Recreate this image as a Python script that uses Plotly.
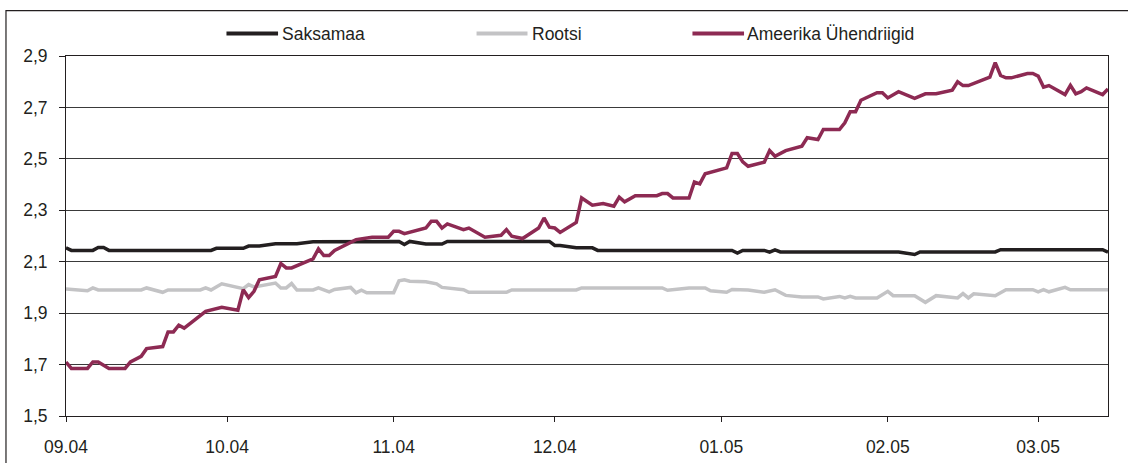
import plotly.graph_objects as go

# ---------------- data ----------------
us_dates = [
    "2004-09-01", "2004-09-02", "2004-09-05", "2004-09-06", "2004-09-07", "2004-09-09",
    "2004-09-12", "2004-09-13", "2004-09-15", "2004-09-16", "2004-09-19", "2004-09-20",
    "2004-09-21", "2004-09-22", "2004-09-23", "2004-09-27", "2004-09-30", "2004-10-03",
    "2004-10-04", "2004-10-05", "2004-10-06", "2004-10-07", "2004-10-10", "2004-10-11",
    "2004-10-12", "2004-10-13", "2004-10-17", "2004-10-18", "2004-10-19", "2004-10-20",
    "2004-10-21", "2004-10-25", "2004-10-28", "2004-10-31", "2004-11-01", "2004-11-02",
    "2004-11-03", "2004-11-07", "2004-11-08", "2004-11-09", "2004-11-10", "2004-11-11",
    "2004-11-14", "2004-11-15", "2004-11-18", "2004-11-21", "2004-11-22", "2004-11-23",
    "2004-11-25", "2004-11-28", "2004-11-29", "2004-11-30", "2004-12-01", "2004-12-02",
    "2004-12-05", "2004-12-06", "2004-12-08", "2004-12-10", "2004-12-12", "2004-12-13",
    "2004-12-14", "2004-12-16", "2004-12-20", "2004-12-21", "2004-12-22", "2004-12-23",
    "2004-12-26", "2004-12-27", "2004-12-28", "2004-12-29", "2005-01-02", "2005-01-03",
    "2005-01-04", "2005-01-05", "2005-01-06", "2005-01-09", "2005-01-10", "2005-01-11",
    "2005-01-13", "2005-01-16", "2005-01-17", "2005-01-19", "2005-01-20", "2005-01-23",
    "2005-01-24", "2005-01-25", "2005-01-26", "2005-01-27", "2005-01-30", "2005-01-31",
    "2005-02-01", "2005-02-03", "2005-02-06", "2005-02-08", "2005-02-10", "2005-02-13",
    "2005-02-14", "2005-02-15", "2005-02-16", "2005-02-20", "2005-02-21", "2005-02-22",
    "2005-02-23", "2005-02-24", "2005-02-27", "2005-02-28", "2005-03-01", "2005-03-02",
    "2005-03-03", "2005-03-06", "2005-03-07", "2005-03-08", "2005-03-09", "2005-03-10",
    "2005-03-13", "2005-03-14",
]
us_values = [
    1.710, 1.685, 1.685, 1.710, 1.710, 1.685,
    1.685, 1.710, 1.732, 1.762, 1.770, 1.827,
    1.827, 1.853, 1.842, 1.907, 1.923, 1.911,
    1.991, 1.960, 1.985, 2.030, 2.043, 2.093,
    2.076, 2.076, 2.111, 2.150, 2.124, 2.124,
    2.144, 2.186, 2.195, 2.195, 2.218, 2.218,
    2.209, 2.231, 2.257, 2.257, 2.231, 2.247,
    2.225, 2.231, 2.195, 2.203, 2.225, 2.199,
    2.190, 2.231, 2.270, 2.234, 2.231, 2.214,
    2.253, 2.348, 2.320, 2.326, 2.316, 2.351,
    2.333, 2.357, 2.357, 2.365, 2.365, 2.348,
    2.348, 2.410, 2.403, 2.442, 2.465, 2.521,
    2.521, 2.488, 2.471, 2.487, 2.532, 2.510,
    2.532, 2.549, 2.582, 2.575, 2.614, 2.614,
    2.640, 2.683, 2.683, 2.728, 2.757, 2.757,
    2.737, 2.761, 2.735, 2.753, 2.753, 2.767,
    2.800, 2.785, 2.785, 2.818, 2.874, 2.824,
    2.815, 2.815, 2.832, 2.832, 2.822, 2.779,
    2.785, 2.750, 2.786, 2.753, 2.761, 2.776,
    2.750, 2.772,
]

de_dates = [
    "2004-09-01", "2004-09-02", "2004-09-06", "2004-09-07", "2004-09-08", "2004-09-09",
    "2004-09-28", "2004-09-29", "2004-10-04", "2004-10-05", "2004-10-07", "2004-10-10",
    "2004-10-14", "2004-10-17", "2004-11-02", "2004-11-03", "2004-11-04", "2004-11-07",
    "2004-11-10", "2004-11-11", "2004-11-30", "2004-12-01", "2004-12-02", "2004-12-05",
    "2004-12-08", "2004-12-09", "2005-01-03", "2005-01-04", "2005-01-05", "2005-01-09",
    "2005-01-10", "2005-01-11", "2005-01-12", "2005-02-03", "2005-02-06", "2005-02-07",
    "2005-02-21", "2005-02-22", "2005-03-13", "2005-03-14",
]
de_values = [
    2.154, 2.144, 2.144, 2.155, 2.155, 2.144,
    2.144, 2.152, 2.152, 2.161, 2.161, 2.170,
    2.170, 2.178, 2.179, 2.167, 2.179, 2.169,
    2.169, 2.179, 2.179, 2.163, 2.163, 2.154,
    2.154, 2.144, 2.144, 2.134, 2.144, 2.144,
    2.137, 2.146, 2.138, 2.138, 2.128, 2.138,
    2.138, 2.147, 2.147, 2.137,
]

se_dates = [
    "2004-09-01", "2004-09-03", "2004-09-05", "2004-09-06", "2004-09-07", "2004-09-15",
    "2004-09-16", "2004-09-19", "2004-09-20", "2004-09-26", "2004-09-27", "2004-09-28",
    "2004-09-30", "2004-10-04", "2004-10-05", "2004-10-06", "2004-10-10", "2004-10-11",
    "2004-10-12", "2004-10-13", "2004-10-14", "2004-10-17", "2004-10-18", "2004-10-20",
    "2004-10-21", "2004-10-24", "2004-10-25", "2004-10-26", "2004-10-27", "2004-11-01",
    "2004-11-02", "2004-11-03", "2004-11-04", "2004-11-07", "2004-11-09", "2004-11-10",
    "2004-11-14", "2004-11-15", "2004-11-22", "2004-11-23", "2004-12-05", "2004-12-06",
    "2004-12-21", "2004-12-22", "2004-12-26", "2004-12-29", "2004-12-30", "2005-01-02",
    "2005-01-03", "2005-01-06", "2005-01-09", "2005-01-11", "2005-01-13", "2005-01-16",
    "2005-01-19", "2005-01-20", "2005-01-23", "2005-01-24", "2005-01-25", "2005-01-26",
    "2005-01-30", "2005-02-01", "2005-02-02", "2005-02-06", "2005-02-08", "2005-02-10",
    "2005-02-14", "2005-02-15", "2005-02-16", "2005-02-17", "2005-02-21", "2005-02-23",
    "2005-02-28", "2005-03-01", "2005-03-02", "2005-03-03", "2005-03-06", "2005-03-07",
    "2005-03-14",
]
se_values = [
    1.994, 1.990, 1.987, 1.998, 1.990, 1.990,
    1.998, 1.981, 1.990, 1.990, 1.998, 1.990,
    2.014, 1.995, 2.011, 2.002, 2.017, 1.998,
    1.998, 2.015, 1.990, 1.990, 1.998, 1.983,
    1.992, 2.000, 1.979, 1.989, 1.979, 1.979,
    2.026, 2.030, 2.024, 2.022, 2.014, 2.000,
    1.991, 1.981, 1.981, 1.990, 1.990, 1.998,
    1.998, 1.989, 1.998, 1.998, 1.987, 1.981,
    1.992, 1.990, 1.981, 1.991, 1.969, 1.963,
    1.963, 1.955, 1.965, 1.959, 1.965, 1.959,
    1.959, 1.985, 1.968, 1.968, 1.942, 1.968,
    1.959, 1.976, 1.959, 1.975, 1.968, 1.991,
    1.991, 1.983, 1.991, 1.983, 2.000, 1.991,
    1.991,
]

series_names = ["Saksamaa", "Rootsi", "Ameerika Ühendriigid"]
series_colors = ["#231f20", "#c3c3c5", "#8d2a53"]

y_ticks = [1.5, 1.7, 1.9, 2.1, 2.3, 2.5, 2.7, 2.9]
y_tick_labels = ["1,5", "1,7", "1,9", "2,1", "2,3", "2,5", "2,7", "2,9"]
x_range = ["2004-09-01", "2005-03-14"]

# legend key placement (paper fractions) - layout only
legend_key_x = [(0.1540, 0.2035), (0.3940, 0.4429), (0.6012, 0.6507)]
legend_text_x = [0.2056, 0.4452, 0.6512]
legend_y = 1.0625

FONT = "Liberation Sans, Arial, sans-serif"
INK = "#231f20"

fig = go.Figure()
for name, xs, ys, col in zip(series_names,
                             [de_dates, se_dates, us_dates],
                             [de_values, se_values, us_values],
                             series_colors):
    fig.add_trace(go.Scatter(x=xs, y=ys, name=name, mode="lines",
                             line=dict(color=col, width=3.5),
                             hoverinfo="x+y+name", showlegend=False))

shapes = [dict(type="rect", xref="paper", yref="paper",
               x0=-0.0576, x1=1.05, y0=-0.3, y1=1.1258,
               line=dict(color=INK, width=1.2), fillcolor="rgba(0,0,0,0)",
               layer="below")]
annotations = []
for name, col, (kx0, kx1), tx in zip(series_names, series_colors, legend_key_x, legend_text_x):
    shapes.append(dict(type="line", xref="paper", yref="paper",
                       x0=kx0, x1=kx1, y0=legend_y, y1=legend_y,
                       line=dict(color=col, width=4)))
    annotations.append(dict(text=name, xref="paper", yref="paper", x=tx, y=legend_y,
                            xanchor="left", yanchor="middle", showarrow=False,
                            font=dict(family=FONT, size=17.5, color=INK)))

fig.update_layout(
    width=1128, height=463,
    margin=dict(l=66, r=20, t=56, b=47, autoexpand=False),
    paper_bgcolor="white", plot_bgcolor="white",
    font=dict(family=FONT, size=17, color=INK),
    showlegend=False,
    xaxis=dict(type="date", range=x_range, tick0="2004-09-01", dtick="M1",
               tickformat="%m.%y", ticks="outside", ticklen=5, tickcolor=INK,
               showline=True, linecolor=INK, linewidth=1, mirror=True,
               showgrid=False, zeroline=False, ticklabelstandoff=10,
               automargin=False, tickfont=dict(size=17.5)),
    yaxis=dict(range=[1.5, 2.9], tickvals=y_ticks, ticktext=y_tick_labels,
               ticks="outside", ticklen=6, tickcolor=INK,
               showline=True, linecolor=INK, linewidth=1, mirror=True,
               showgrid=True, gridcolor="#3a3a3a", gridwidth=1, zeroline=False,
               ticklabelstandoff=8, automargin=False, tickfont=dict(size=17.5)),
    shapes=shapes,
    annotations=annotations,
)

fig.write_html(
    "out.html",
    config={"displayModeBar": False},
    post_script="document.body.style.margin='0';document.body.style.overflow='hidden';",
)
